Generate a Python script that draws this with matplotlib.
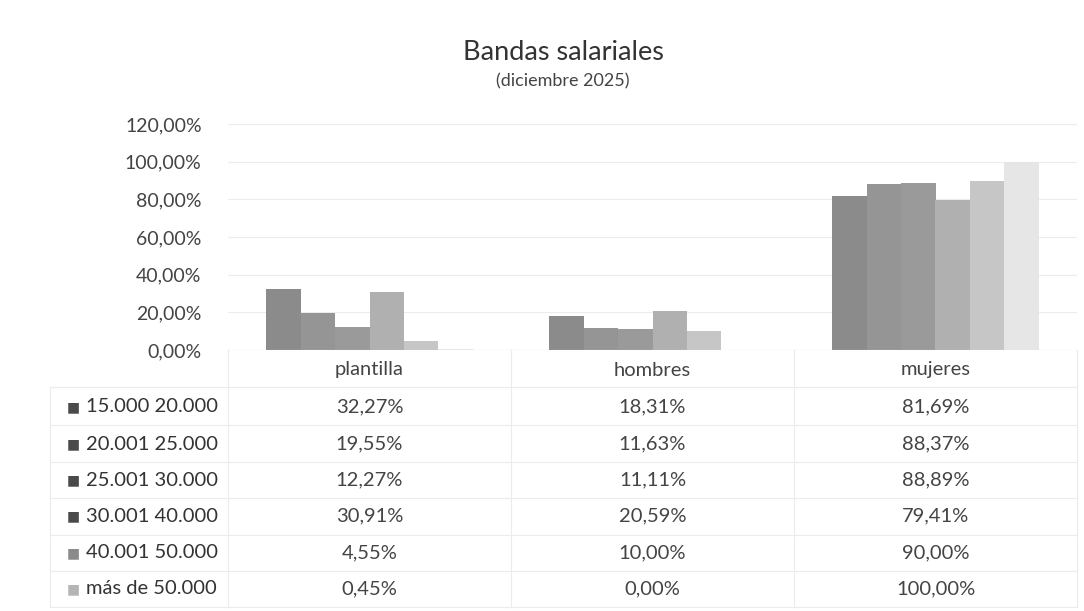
import matplotlib
matplotlib.use("Agg")
import matplotlib.pyplot as plt
import numpy as np

plt.rcParams['font.family'] = ['Lato', 'DejaVu Sans']

categories = ["plantilla", "hombres", "mujeres"]
bands = ["15.000 20.000", "20.001 25.000", "25.001 30.000",
         "30.001 40.000", "40.001 50.000", "más de 50.000"]
values = {
    "15.000 20.000": [32.27, 18.31, 81.69],
    "20.001 25.000": [19.55, 11.63, 88.37],
    "25.001 30.000": [12.27, 11.11, 88.89],
    "30.001 40.000": [30.91, 20.59, 79.41],
    "40.001 50.000": [4.55, 10.00, 90.00],
    "más de 50.000": [0.45, 0.00, 100.00],
}
yticks = [0, 20, 40, 60, 80, 100, 120]

colors = ['#8b8b8b', '#959595', '#9a9a9a', '#b0b0b0', '#c6c6c6', '#e6e6e6']
marker_colors = ['#4a4a4a', '#4a4a4a', '#4a4a4a', '#4a4a4a', '#8a8a8a', '#b5b5b5']

W, H = 1084, 611
fig = plt.figure(figsize=(W / 100, H / 100), dpi=100)
fig.patch.set_facecolor('white')

def fx(px):
    return px / W

def fy(py):
    return 1 - py / H

left, right = 228, 1077
y0, ytop = 350, 124
ax = fig.add_axes([fx(left), fy(y0), fx(right) - fx(left), fy(ytop) - fy(y0)])

n = len(bands)
group = 0.73
bw = group / n
x = np.arange(len(categories))
for i, b in enumerate(bands):
    offs = -group / 2 + bw * (i + 0.5)
    ax.bar(x + offs, values[b], width=bw, color=colors[i], edgecolor='none', zorder=2)

ax.set_xlim(-0.5, len(categories) - 0.5)
ax.set_ylim(0, 120)
ax.set_yticks(yticks)
ax.set_yticklabels([f"{v:.2f}".replace('.', ',') + "%" for v in yticks],
                   fontsize=14, color='#444444')
ax.tick_params(axis='y', length=0, pad=19)
ax.set_xticks([])
ax.grid(axis='y', color='#ececec', linewidth=0.8, zorder=0)
for s in ax.spines.values():
    s.set_visible(False)
ax.axhline(0, color='#e0e0e0', linewidth=0.8, zorder=3)

title_cx = fx(563)
fig.text(title_cx, fy(52), "Bandas salariales", ha='center', va='center',
         fontsize=19.5, color='#333333')
fig.text(title_cx, fy(81), "(diciembre 2025)", ha='center', va='center',
         fontsize=13, color='#444444')

# Data table
table_left = 50
header_y = 370
row_y = [407, 444, 480, 516, 553, 589]
row_lines = [387, 425, 462, 498, 535, 571, 607]
line_col = '#ececec'
colw = (right - left) / len(categories)

for c, cat in enumerate(categories):
    fig.text(fx(left + colw * (c + 0.5)), fy(header_y), cat,
             ha='center', va='center', fontsize=14.5, color='#444444')

for yy in row_lines:
    fig.add_artist(plt.Line2D([fx(table_left), fx(right)], [fy(yy), fy(yy)],
                              color=line_col, linewidth=0.8))
for xx in [left, left + colw, left + 2 * colw, right]:
    fig.add_artist(plt.Line2D([fx(xx), fx(xx)], [fy(y0), fy(607)],
                              color=line_col, linewidth=0.8))
fig.add_artist(plt.Line2D([fx(table_left), fx(table_left)], [fy(387), fy(607)],
                          color=line_col, linewidth=0.8))

for i, b in enumerate(bands):
    yy = fy(row_y[i])
    fig.text(fx(67), yy, "■", ha='left', va='center', fontsize=10,
             color=marker_colors[i], family='DejaVu Sans')
    fig.text(fx(86), yy, b, ha='left', va='center', fontsize=14.5, color='#333333')
    for c in range(len(categories)):
        v = values[b][c]
        fig.text(fx(left + colw * (c + 0.5)), yy,
                 f"{v:.2f}".replace('.', ',') + "%",
                 ha='center', va='center', fontsize=14.5, color='#444444')

fig.savefig("out.png", dpi=100, facecolor='white')
